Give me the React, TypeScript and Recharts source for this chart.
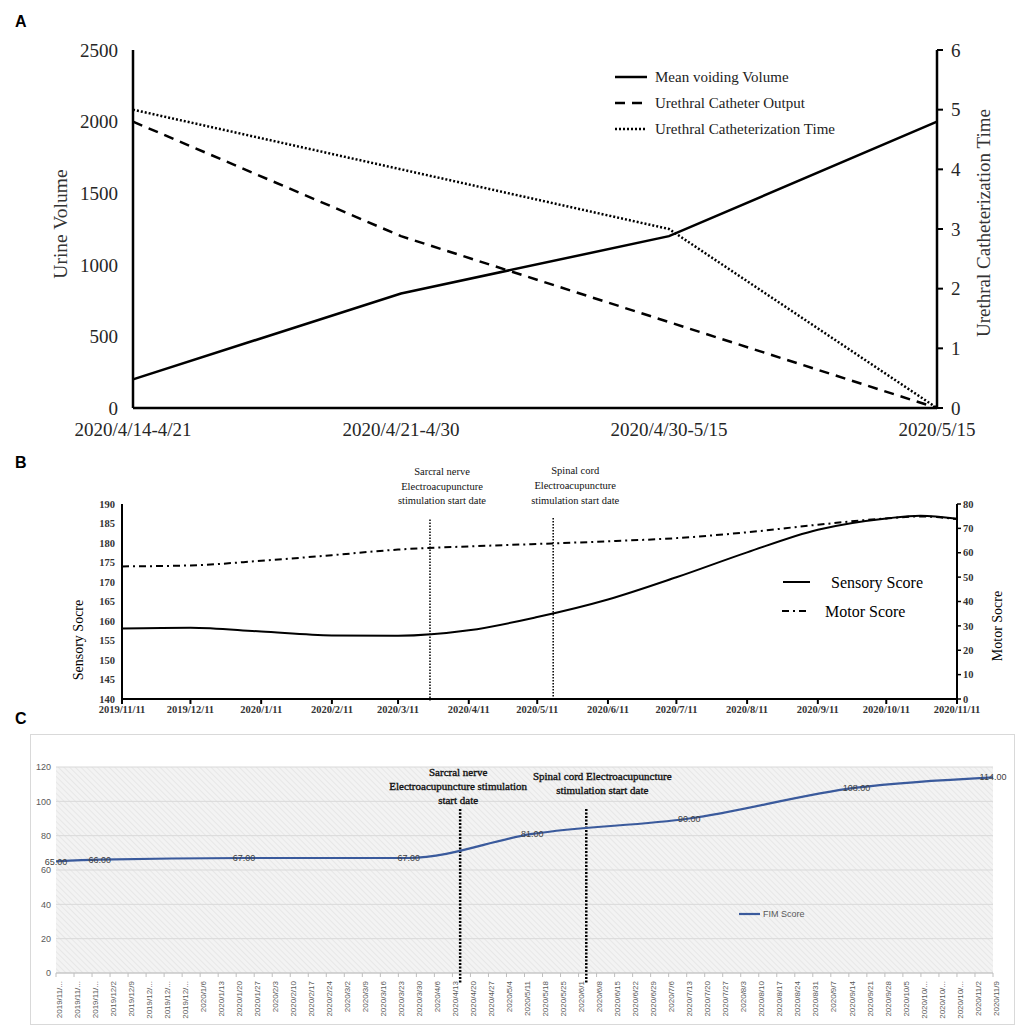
import React from 'react';
import { LineChart, Line, XAxis, YAxis, CartesianGrid, ReferenceLine, Legend, LabelList } from 'recharts';

const SERIF = '"Liberation Serif", "Times New Roman", Times, serif';
const SANS = '"Liberation Sans", Arial, sans-serif';

// ---------- Panel A ----------
const aPeriods = ['2020/4/14-4/21', '2020/4/21-4/30', '2020/4/30-5/15', '2020/5/15'];
const aMeanVoidingVolume = [200, 800, 1200, 2000];
const aCatheterOutput = [2000, 1200, 600, 0];
const aCatheterizationTime = [5, 4, 3, 0];
const aVolumeTicks = [0, 500, 1000, 1500, 2000, 2500];
const aTimeTicks = [0, 1, 2, 3, 4, 5, 6];
const aSeriesNames = ['Mean voiding Volume', 'Urethral Catheter Output', 'Urethral Catheterization Time'];

// ---------- Panel B ----------
const bTickDays = [0, 30, 61, 92, 121, 152, 182, 213, 243, 274, 305, 335, 366];
const bTickLabels = ['2019/11/11', '2019/12/11', '2020/1/11', '2020/2/11', '2020/3/11', '2020/4/11', '2020/5/11', '2020/6/11', '2020/7/11', '2020/8/11', '2020/9/11', '2020/10/11', '2020/11/11'];
const bDays = [0, 30, 61, 92, 121, 152, 182, 213, 243, 274, 305, 335, 350, 366];
const bSensory = [158.1, 158.3, 157.3, 156.3, 156.2, 157.6, 161.0, 165.5, 171.2, 177.6, 183.4, 186.3, 187.0, 186.2];
const bMotor = [54.4, 54.8, 56.7, 59.0, 61.3, 62.6, 63.6, 64.7, 66.0, 68.4, 71.5, 74.1, 74.9, 73.8];
const bSensoryTicks = [140, 145, 150, 155, 160, 165, 170, 175, 180, 185, 190];
const bMotorTicks = [0, 10, 20, 30, 40, 50, 60, 70, 80];
const bSacralDay = 135;
const bSpinalDay = 189;

// ---------- Panel C ----------
const cTickLabels = ['2019/11/...', '2019/11/...', '2019/11/...', '2019/12/2', '2019/12/9', '2019/12/...', '2019/12/...', '2019/12/...',
  '2020/1/6', '2020/1/13', '2020/1/20', '2020/1/27', '2020/2/3', '2020/2/10', '2020/2/17', '2020/2/24',
  '2020/3/2', '2020/3/9', '2020/3/16', '2020/3/23', '2020/3/30', '2020/4/6', '2020/4/13', '2020/4/20', '2020/4/27',
  '2020/5/4', '2020/5/11', '2020/5/18', '2020/5/25', '2020/6/1', '2020/6/8', '2020/6/15', '2020/6/22', '2020/6/29',
  '2020/7/6', '2020/7/13', '2020/7/20', '2020/7/27', '2020/8/3', '2020/8/10', '2020/8/17', '2020/8/24', '2020/8/31',
  '2020/9/7', '2020/9/14', '2020/9/21', '2020/9/28', '2020/10/5', '2020/10/...', '2020/10/...', '2020/10/...', '2020/11/2', '2020/11/9'];
const cTickDays = cTickLabels.map((_, i) => i * 7);
const cDays = [0, 17, 73, 137, 185, 246, 311, 364];
const cFim = [65, 66, 67, 67, 81, 90, 108, 114];
const cYTicks = [0, 20, 40, 60, 80, 100, 120];
const cSacralDay = 157;
const cSpinalDay = 206;

const aData = aPeriods.map((p, i) => ({ period: p, voiding: aMeanVoidingVolume[i], output: aCatheterOutput[i], time: aCatheterizationTime[i] }));
const bData = bDays.map((d, i) => ({ day: d, sensory: bSensory[i], motor: bMotor[i] }));
const cData = cDays.map((d, i) => ({ day: d, fim: cFim[i] }));

const annot = (lines: string[], dx: number, ys: number[], fontSize: number, heavy: boolean) => (props: any) => {
  const vb = props && props.viewBox ? props.viewBox : { x: 0 };
  const x = (vb.x || 0) + dx;
  return (
    <g>
      {lines.map((t, i) => (
        <text key={i} x={x} y={ys[i]} textAnchor="middle" dominantBaseline="central" fontFamily={SERIF} fontSize={fontSize}
          fill="#111" stroke={heavy ? '#111' : 'none'} strokeWidth={heavy ? 0.35 : 0}>{t}</text>
      ))}
    </g>
  );
};

const LegendA = () => (
  <svg width={250} height={84} style={{ display: 'block' }}>
    {[0, 1, 2].map((i) => (
      <g key={i}>
        <line x1={3} x2={35} y1={15 + i * 26} y2={15 + i * 26} stroke="#000" strokeWidth={2.5}
          strokeDasharray={i === 0 ? undefined : i === 1 ? '10 7' : '2 2'} />
        <text x={43} y={15 + i * 26} dominantBaseline="central" fontFamily={SERIF} fontSize={15} fill="#222">{aSeriesNames[i]}</text>
      </g>
    ))}
  </svg>
);

const LegendB = () => (
  <svg width={170} height={64} style={{ display: 'block' }}>
    <line x1={8} x2={35} y1={17} y2={17} stroke="#000" strokeWidth={2} />
    <text x={56} y={17} dominantBaseline="central" fontFamily={SERIF} fontSize={16} fill="#000">Sensory Score</text>
    <line x1={7} x2={33} y1={46} y2={46} stroke="#000" strokeWidth={2} strokeDasharray="7 4 2 4" />
    <text x={50} y={46} dominantBaseline="central" fontFamily={SERIF} fontSize={16} fill="#000">Motor Score</text>
  </svg>
);

const LegendC = () => (
  <svg width={90} height={20} style={{ display: 'block' }}>
    <line x1={8} x2={29} y1={9} y2={9} stroke="#3a5a9c" strokeWidth={2.2} />
    <text x={32} y={9} dominantBaseline="central" fontFamily={SANS} fontSize={9} fill="#595959">FIM Score</text>
  </svg>
);

export default function App() {
  return (
    <div style={{ position: 'absolute', left: 0, top: 0, width: 1021, height: 1030, background: '#fff', overflow: 'hidden' }}>
      {/* Panel A */}
      <div style={{ position: 'absolute', left: 0, top: 0 }}>
        <LineChart width={1021} height={450} data={aData} margin={{ top: 50, right: 24, left: 60, bottom: 12 }}>
          <XAxis dataKey="period" interval={0} axisLine={{ stroke: '#000', strokeWidth: 2.5 }} tickLine={false} tickSize={0} tickMargin={15}
            tick={{ fontFamily: SERIF, fontSize: 19, fill: '#262626' }} />
          <YAxis yAxisId="left" width={73} domain={[0, 2500]} ticks={aVolumeTicks} axisLine={{ stroke: '#000', strokeWidth: 2.5 }}
            tickLine={false} tickSize={0} tickMargin={15} tick={{ fontFamily: SERIF, fontSize: 19, fill: '#262626' }} />
          <YAxis yAxisId="right" orientation="right" width={60} domain={[0, 6]} ticks={aTimeTicks} axisLine={{ stroke: '#000', strokeWidth: 2.5 }}
            tickLine={{ stroke: '#000', strokeWidth: 2 }} tickSize={6} tickMargin={8} tick={{ fontFamily: SERIF, fontSize: 19, fill: '#262626' }} />
          <Legend layout="vertical" align="center" verticalAlign="middle" content={LegendA}
            wrapperStyle={{ left: 612, top: 62, width: 250, height: 84 }} />
          <Line yAxisId="left" type="linear" dataKey="voiding" name={aSeriesNames[0]} stroke="#000" strokeWidth={2.5} dot={false} activeDot={false} isAnimationActive={false} />
          <Line yAxisId="left" type="linear" dataKey="output" name={aSeriesNames[1]} stroke="#000" strokeWidth={2.5} strokeDasharray="10 7" dot={false} activeDot={false} isAnimationActive={false} />
          <Line yAxisId="right" type="linear" dataKey="time" name={aSeriesNames[2]} stroke="#000" strokeWidth={2.5} strokeDasharray="2 2" dot={false} activeDot={false} isAnimationActive={false} />
        </LineChart>
      </div>

      {/* Panel B */}
      <div style={{ position: 'absolute', left: 0, top: 450 }}>
        <LineChart width={1021} height={270} data={bData} margin={{ top: 54, right: 24, left: 82, bottom: 3 }}>
          <XAxis dataKey="day" type="number" domain={[0, 366]} ticks={bTickDays} interval={0}
            tickFormatter={(v: number) => bTickLabels[bTickDays.indexOf(v)] ?? ''}
            height={18} axisLine={{ stroke: '#000', strokeWidth: 2 }} tickLine={{ stroke: '#000', strokeWidth: 2 }} tickSize={5} tickMargin={2}
            tick={{ fontFamily: SERIF, fontSize: 10.5, fontWeight: 'bold', fill: '#333' }} />
          <YAxis yAxisId="left" width={40} domain={[140, 190]} ticks={bSensoryTicks} interval={0} axisLine={{ stroke: '#000', strokeWidth: 2 }}
            tickLine={false} tickSize={0} tickMargin={7} tick={{ fontFamily: SERIF, fontSize: 10.5, fontWeight: 'bold', fill: '#333' }} />
          <YAxis yAxisId="right" orientation="right" width={40} domain={[0, 80]} ticks={bMotorTicks} interval={0} axisLine={{ stroke: '#000', strokeWidth: 2 }}
            tickLine={{ stroke: '#000', strokeWidth: 1.5 }} tickSize={4} tickMargin={2} tick={{ fontFamily: SERIF, fontSize: 10.5, fontWeight: 'bold', fill: '#333' }} />
          <Legend layout="vertical" align="center" verticalAlign="middle" content={LegendB}
            wrapperStyle={{ left: 775, top: 115, width: 170, height: 64 }} />
          <ReferenceLine yAxisId="left" segment={[{ x: bSacralDay, y: 186 }, { x: bSacralDay, y: 139.6 }]} ifOverflow="visible"
            stroke="#000" strokeWidth={1.5} strokeDasharray="1.5 1.5"
            label={annot(['Sarcral nerve', 'Electroacupuncture', 'stimulation start date'], 12, [21.7, 36.5, 50.5], 10.5, false)} />
          <ReferenceLine yAxisId="left" segment={[{ x: bSpinalDay, y: 186.4 }, { x: bSpinalDay, y: 139.6 }]} ifOverflow="visible"
            stroke="#000" strokeWidth={1.5} strokeDasharray="1.5 1.5"
            label={annot(['Spinal cord', 'Electroacupuncture', 'stimulation start date'], 22, [20, 35, 50], 10.5, false)} />
          <Line yAxisId="left" type="monotone" dataKey="sensory" name="Sensory Score" stroke="#000" strokeWidth={2} dot={false} activeDot={false} isAnimationActive={false} />
          <Line yAxisId="right" type="monotone" dataKey="motor" name="Motor Score" stroke="#000" strokeWidth={2} strokeDasharray="7 4 2 4" dot={false} activeDot={false} isAnimationActive={false} />
        </LineChart>
      </div>

      {/* Panel C */}
      <div style={{ position: 'absolute', left: 30, top: 734, width: 985, height: 291, border: '1px solid #d9d9d9', boxSizing: 'border-box', background: '#fff' }}>
        <LineChart width={983} height={289} data={cData} margin={{ top: 32, right: 21, left: 5, bottom: 7 }}>
          <defs>
            <pattern id="hatchC" width="4" height="4" patternUnits="userSpaceOnUse" patternTransform="rotate(-45)">
              <rect width="4" height="4" fill="#f3f3f3" />
              <line x1="0" y1="0" x2="0" y2="4" stroke="#e2e2e2" strokeWidth="1.4" />
            </pattern>
          </defs>
          <CartesianGrid vertical={false} stroke="#d9d9d9" fill="url(#hatchC)" />
          <XAxis dataKey="day" type="number" domain={[0, 364]} ticks={cTickDays} interval={0}
            tickFormatter={(v: number) => cTickLabels[Math.round(v / 7)] ?? ''}
            height={44} axisLine={{ stroke: '#bfbfbf' }} tickLine={{ stroke: '#bfbfbf' }} tickSize={4} tickMargin={4}
            tick={{ fontFamily: SANS, fontSize: 8, fill: '#595959', angle: -90, textAnchor: 'end', verticalAnchor: 'middle' }} />
          <YAxis width={20} domain={[0, 120]} ticks={cYTicks} interval={0} axisLine={false} tickLine={false} tickSize={0} tickMargin={5}
            tick={{ fontFamily: SANS, fontSize: 9, fill: '#595959' }} />
          <Legend layout="vertical" align="center" verticalAlign="middle" content={LegendC}
            wrapperStyle={{ left: 700, top: 170, width: 90, height: 20 }} />
          <ReferenceLine segment={[{ x: cSacralDay, y: 95.5 }, { x: cSacralDay, y: -5.5 }]} ifOverflow="visible"
            stroke="#000" strokeWidth={2.5} strokeDasharray="2 1.5"
            label={annot(['Sarcral nerve', 'Electroacupuncture stimulation', 'start date'], -2, [37, 51, 65], 11, true)} />
          <ReferenceLine segment={[{ x: cSpinalDay, y: 95.5 }, { x: cSpinalDay, y: -5.5 }]} ifOverflow="visible"
            stroke="#000" strokeWidth={2.5} strokeDasharray="2 1.5"
            label={annot(['Spinal cord Electroacupuncture', 'stimulation start date'], 16, [41, 55], 11, true)} />
          <Line type="monotone" dataKey="fim" name="FIM Score" stroke="#3a5a9c" strokeWidth={2.2} dot={false} activeDot={false} isAnimationActive={false}>
            <LabelList dataKey="fim" position="center" formatter={(v: any) => Number(v).toFixed(2)}
              fontFamily={SANS} fontSize={9} fill="#404040" />
          </Line>
        </LineChart>
      </div>

      {/* Panel letters and axis titles */}
      <svg width={1021} height={1030} style={{ position: 'absolute', left: 0, top: 0, pointerEvents: 'none' }}>
        <text x={15} y={27} fontFamily={SANS} fontWeight="bold" fontSize={16} fill="#000">A</text>
        <text x={15} y={468} fontFamily={SANS} fontWeight="bold" fontSize={16} fill="#000">B</text>
        <text x={15} y={724} fontFamily={SANS} fontWeight="bold" fontSize={16} fill="#000">C</text>
        <text x={60} y={224} transform="rotate(-90 60 224)" textAnchor="middle" dominantBaseline="central" fontFamily={SERIF} fontSize={19.5} fill="#333">Urine Volume</text>
        <text x={983} y={223} transform="rotate(-90 983 223)" textAnchor="middle" dominantBaseline="central" fontFamily={SERIF} fontSize={19} fill="#333">Urethral Catheterization Time</text>
        <text x={78} y={640} transform="rotate(-90 78 640)" textAnchor="middle" dominantBaseline="central" fontFamily={SERIF} fontSize={14} fill="#000">Sensory Socre</text>
        <text x={997} y={626} transform="rotate(-90 997 626)" textAnchor="middle" dominantBaseline="central" fontFamily={SERIF} fontSize={14} fill="#000">Motor Socre</text>
      </svg>
    </div>
  );
}
